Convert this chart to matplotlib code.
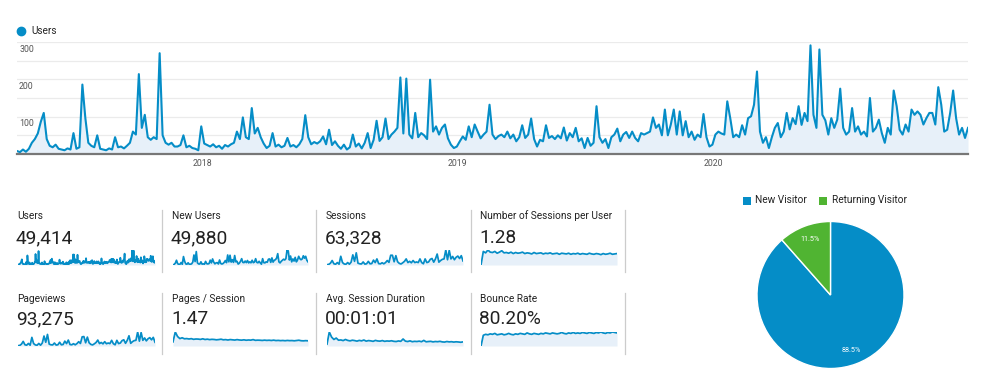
import datetime as dt
import numpy as np
import matplotlib
matplotlib.use("Agg")
import matplotlib.pyplot as plt
import matplotlib.dates as mdates
import matplotlib.transforms as mtrans
from matplotlib.lines import Line2D
from matplotlib.patches import Rectangle

# ---------------- data ----------------
# daily users (sampled), Apr 2017 -> Dec 2020
users = [
    8, 5, 12, 6, 14, 30, 40, 55, 86, 110, 40, 22, 18, 25, 14, 12, 10, 15, 12, 56,
    14, 18, 186, 96, 30, 22, 18, 50, 14, 12, 10, 15, 12, 45, 18, 20, 15, 22, 30, 60,
    52, 214, 70, 105, 45, 38, 45, 40, 270, 50, 30, 25, 30, 20,
    20, 24, 50, 18, 22, 16, 14, 10, 74, 28, 24, 20, 26, 18, 22, 14, 24, 20, 26, 30,
    60, 40, 98, 45, 40, 123, 55, 70, 45, 28, 16, 22, 56, 20, 25, 18, 22, 43, 20, 24,
    18, 26, 40, 104, 45, 26, 32, 28, 34, 47, 26, 65, 24, 34,
    22, 14, 25, 12, 18, 52, 20, 28, 15, 30, 56, 16, 38, 89, 35, 45, 95, 40, 52, 60,
    70, 205, 55, 202, 52, 42, 110, 45, 56, 50, 40, 199, 60, 74, 52, 70, 79, 42, 25, 16,
    20, 34, 47, 38, 74, 45, 79, 60, 42, 52, 60, 132, 52, 40,
    48, 52, 45, 60, 42, 52, 34, 45, 77, 43, 52, 95, 40, 20, 38, 34, 77, 43, 48, 40,
    50, 42, 71, 36, 56, 45, 70, 34, 42, 16, 43, 22, 30, 128, 45, 30, 40, 16, 45, 52,
    68, 34, 52, 59, 43, 60, 43, 34, 56, 52, 56, 60, 98, 70,
    79, 50, 119, 50, 79, 119, 52, 114, 50, 88, 45, 60, 38, 52, 45, 107, 45, 20, 25, 52,
    60, 55, 52, 141, 96, 45, 52, 45, 77, 52, 96, 101, 132, 221, 60, 30, 45, 16, 45, 70,
    83, 45, 60, 110, 66, 96, 80, 128, 78, 110, 88, 291, 105, 70,
    280, 105, 90, 52, 96, 70, 92, 175, 70, 52, 60, 123, 60, 74, 52, 60, 47, 150, 60, 70,
    92, 56, 30, 70, 52, 170, 128, 65, 52, 79, 60, 119, 105, 114, 105, 79, 96, 110, 110, 79,
    179, 132, 60, 65, 110, 170, 96, 52, 70, 43, 70,
]
date_start = dt.date(2017, 4, 10)
date_end = dt.date(2020, 12, 31)
year_ticks = [dt.date(2018, 1, 1), dt.date(2019, 1, 1), dt.date(2020, 1, 1)]
year_labels = ["2018", "2019", "2020"]
y_labels = [100, 200, 300]

metric_names = ["Users", "New Users", "Sessions", "Number of Sessions per User",
                "Pageviews", "Pages / Session", "Avg. Session Duration", "Bounce Rate"]
metric_values = ["49,414", "49,880", "63,328", "1.28",
                 "93,275", "1.47", "00:01:01", "80.20%"]

new_users_spark = [5, 10, 35, 90, 25, 12, 14, 48, 14, 160, 70, 20, 15, 42, 12, 15, 22, 55,
                   190, 65, 255, 40, 20, 18, 60, 16, 22, 14, 68, 25, 20, 28, 92, 40, 115, 55,
                   22, 40, 45, 20, 95, 30, 18, 28, 50, 85, 45, 190, 60, 185, 55, 100, 50, 180,
                   60, 70, 18, 35, 70, 120, 50, 45, 75, 45, 85, 40, 60, 42, 90, 45, 55, 120,
                   50, 42, 70, 40, 16, 120, 45, 40, 60, 52, 110, 115, 50, 135, 55, 90, 100, 130,
                   215, 60, 40, 70, 90, 110, 95, 120, 285, 270, 95, 170, 60, 115, 75, 145, 60,
                   95, 165, 120, 100, 115, 175, 130, 165, 90, 60]
sessions_spark = [8, 15, 45, 110, 30, 18, 60, 20, 215, 60, 25, 18, 60, 20, 70, 250, 90, 300,
                  45, 30, 25, 75, 22, 30, 90, 30, 35, 120, 60, 150, 35, 28, 55, 30, 60, 110,
                  65, 240, 240, 80, 230, 80, 40, 25, 55, 90, 150, 60, 90, 55, 110, 60, 75, 60,
                  150, 60, 30, 150, 60, 75, 140, 160, 70, 150, 270, 70, 110, 140, 150, 370,
                  130, 360, 150, 210, 130, 190, 220, 160, 230, 100]
pageviews_spark = [12, 20, 70, 170, 45, 30, 95, 30, 320, 90, 40, 28, 95, 30, 110, 370, 140,
                   430, 70, 45, 40, 110, 35, 45, 140, 45, 55, 180, 90, 220, 55, 45, 85, 45, 90,
                   160, 95, 340, 350, 120, 330, 120, 60, 40, 80, 130, 220, 90, 130, 80, 160, 85,
                   110, 90, 210, 85, 45, 210, 90, 110, 200, 230, 100, 210, 380, 100, 160, 200,
                   210, 520, 180, 500, 210, 300, 190, 270, 310, 230, 320, 140]
sessions_per_user_spark = [1.0, 1.38, 1.34, 1.42, 1.36, 1.35, 1.38, 1.33, 1.36, 1.40, 1.34,
                           1.35, 1.33, 1.36, 1.32, 1.35, 1.33, 1.34, 1.36, 1.32, 1.34, 1.33,
                           1.31, 1.35, 1.32, 1.33, 1.34, 1.31, 1.33, 1.32, 1.34, 1.31, 1.32,
                           1.33, 1.30, 1.33, 1.32, 1.31, 1.33, 1.30, 1.32, 1.31, 1.33, 1.30,
                           1.32, 1.31, 1.30, 1.33, 1.31, 1.30, 1.32, 1.31, 1.29, 1.32, 1.30,
                           1.31, 1.33, 1.30, 1.31, 1.32]
pages_per_session_spark = [1.0, 3.4, 2.3, 1.8, 2.0, 1.75, 1.8, 1.7, 1.78, 1.62, 1.7, 1.68, 1.6,
                           1.75, 1.58, 1.66, 1.55, 1.62, 1.58, 1.5, 1.56, 1.65, 1.5, 1.55, 1.45,
                           1.56, 1.5, 1.44, 1.55, 1.46, 1.42, 1.5, 1.4, 1.46, 1.42, 1.55, 1.38,
                           1.42, 1.4, 1.35, 1.42, 1.36, 1.4, 1.34, 1.42, 1.32, 1.36, 1.3, 1.34,
                           1.28, 1.35, 1.3, 1.32, 1.26, 1.33, 1.4, 1.28, 1.25, 1.3, 1.26]
avg_duration_spark = [20, 150, 95, 70, 85, 62, 65, 58, 70, 60, 55, 62, 58, 52, 60, 55, 64, 52,
                      58, 55, 50, 60, 54, 52, 58, 50, 54, 52, 56, 50, 48, 54, 50, 75, 52, 48,
                      55, 46, 50, 48, 52, 46, 60, 45, 48, 50, 44, 48, 46, 50, 44, 42, 48, 44,
                      46, 42, 45, 43, 40, 44]
bounce_spark = [55, 78, 80, 79, 81, 80, 82, 79, 80, 81, 79, 80, 82, 80, 79, 81, 80, 82, 81, 80,
                83, 81, 80, 82, 81, 80, 82, 81, 83, 82, 81, 83, 82, 81, 82, 84, 82, 81, 83, 82,
                84, 82, 83, 82, 84, 83, 82, 84, 83, 82, 84, 83, 85, 83, 82, 84, 83, 85, 84, 83]

visitor_types = ["New Visitor", "Returning Visitor"]
visitor_share = [88.5, 11.5]

# ---------------- style ----------------
BLUE = "#058dc7"
GREEN = "#50b432"
FILL = "#e7f0f9"
GRID = "#ebebeb"
TXT = "#222222"
TICK = "#555555"

plt.rcParams["font.family"] = ["Roboto", "DejaVu Sans"]

W, H = 1000, 386
fig = plt.figure(figsize=(W / 100, H / 100), dpi=100)
fig.patch.set_facecolor("white")


def px_axes(x0, y0, x1, y1):
    return fig.add_axes([x0 / W, 1 - y1 / H, (x1 - x0) / W, (y1 - y0) / H])


def ftext(x, y, s, **kw):
    fig.text(x / W, 1 - y / H, s, **kw)


def fline(x0, y0, x1, y1, **kw):
    fig.add_artist(Line2D([x0 / W, x1 / W], [1 - y0 / H, 1 - y1 / H],
                          transform=fig.transFigure, **kw))


# ---------------- main chart ----------------
ax = px_axes(17, 42, 968, 154)
xs = np.linspace(mdates.date2num(date_start), mdates.date2num(date_end), len(users))
for v in range(50, 301, 50):
    ax.axhline(v, color=GRID, lw=0.9, zorder=0)
ax.fill_between(xs, users, color=FILL, lw=0, zorder=1)
ax.plot(xs, users, color=BLUE, lw=1.5, solid_joinstyle="round", zorder=2)
ax.axhline(0, color="#777777", lw=1.6, zorder=3, clip_on=False)
ax.set_xlim(xs[0], xs[-1])
ax.set_ylim(0, 300)
for s in ax.spines.values():
    s.set_visible(False)
ax.set_yticks([])
ax.set_xticks([mdates.date2num(d) for d in year_ticks])
ax.set_xticklabels(year_labels, fontsize=6.3, color=TICK)
ax.tick_params(axis="x", length=0, pad=3.5)
ytrans = mtrans.blended_transform_factory(ax.transAxes, ax.transData)
for v in y_labels:
    ax.annotate(str(v), xy=(0, v), xycoords=ytrans, xytext=(1.5, -2),
                textcoords="offset points", ha="left", va="top",
                fontsize=6.3, color=TICK, zorder=4)

# legend
fig.add_artist(Line2D([20.5 / W], [1 - 31 / H], marker="o", ms=6, color=BLUE,
                      lw=0, transform=fig.transFigure))
ftext(31, 31, "Users", fontsize=7.2, color=TXT, va="center", ha="left")

# ---------------- metric tiles ----------------
col_x = [17, 172, 326, 480]
spark_x = [(18, 155), (173, 308), (327, 463), (481, 617)]
row_label_y = [216, 299]
row_value_y = [238, 319]
row_spark_y = [(250, 265), (332, 346)]
sep_x = [162, 316, 471, 625]
sep_y = [(210, 272), (293, 354)]
sparks = [users, new_users_spark, sessions_spark, sessions_per_user_spark,
          pageviews_spark, pages_per_session_spark, avg_duration_spark, bounce_spark]
ratio = [False, False, False, True, False, False, False, True]

for i, (name, val, data) in enumerate(zip(metric_names, metric_values, sparks)):
    r, c = divmod(i, 4)
    ftext(col_x[c], row_label_y[r], name, fontsize=7.3, color=TXT, va="center", ha="left")
    ftext(col_x[c] - 1, row_value_y[r], val, fontsize=13.8, color=TXT, va="center", ha="left")
    sx0, sx1 = spark_x[c]
    sy0, sy1 = row_spark_y[r]
    sax = px_axes(sx0, sy0, sx1, sy1)
    d = np.asarray(data, dtype=float)
    t = np.arange(len(d))
    lo = d.min() if ratio[i] else 0
    sax.fill_between(t, d, lo, color=FILL, lw=0)
    sax.plot(t, d, color=BLUE, lw=1.25, solid_joinstyle="round")
    sax.set_xlim(0, len(d) - 1)
    sax.set_ylim(lo, d.max())
    sax.axis("off")
    fline(sep_x[c], sep_y[r][0], sep_x[c], sep_y[r][1], color="#cccccc", lw=0.9)

# ---------------- pie ----------------
pax = px_axes(757, 221.5, 904, 368.5)
wedges, texts, autotexts = pax.pie(
    visitor_share, colors=[BLUE, GREEN], startangle=90, counterclock=False,
    autopct="%.1f%%", pctdistance=0.8,
    wedgeprops=dict(edgecolor="white", linewidth=1.0),
    textprops=dict(color="white", fontsize=5.2))
pax.set_xlim(-1, 1)
pax.set_ylim(-1, 1)

leg_items = [(743, 755, BLUE, visitor_types[0]), (819, 831.5, GREEN, visitor_types[1])]
for bx, tx, col, lab in leg_items:
    fig.add_artist(Rectangle((bx / W, 1 - 204.5 / H), 8 / W, 8 / H,
                             transform=fig.transFigure, color=col, lw=0))
    ftext(tx, 200.5, lab, fontsize=7.3, color=TXT, va="center", ha="left")

fig.savefig("out.png", dpi=100, facecolor="white")
